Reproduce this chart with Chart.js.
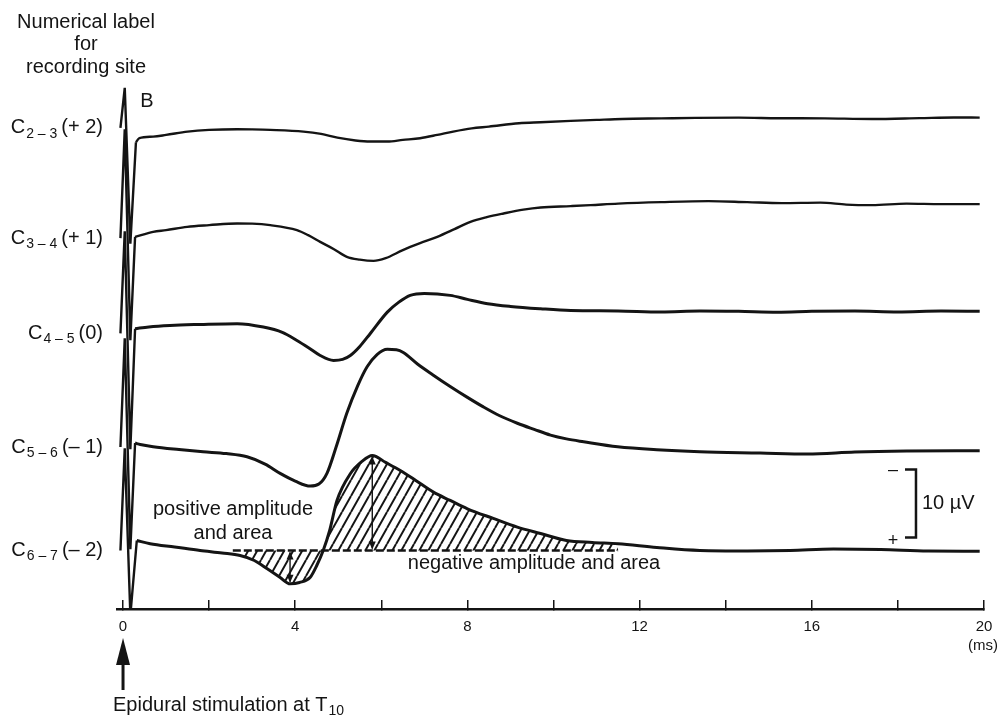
<!DOCTYPE html>
<html>
<head>
<meta charset="utf-8">
<script src="https://cdn.jsdelivr.net/npm/chart.js@4.4.1/dist/chart.umd.min.js"></script>
<style>
  html, body { margin: 0; padding: 0; background: #fff; overflow: hidden; }
  #wrap { width: 1003px; height: 717px; position: relative; }
  canvas { display: block; }
</style>
</head>
<body>
<div id="wrap"><canvas id="tracesChart"></canvas></div>
<script>
// recording sites (top to bottom)
const siteNames = ['2 \u2013 3', '3 \u2013 4', '4 \u2013 5', '5 \u2013 6', '6 \u2013 7'];
const siteNumbers = ['(+ 2)', '(+ 1)', '(0)', '(\u2013 1)', '(\u2013 2)'];
const siteOffsets = [18.8, 35.0, 49.0, 65.7, 80.9]; // uV, where each trace sits

// stimulus artifact at t = 0 (uV relative to each trace)
const artifactTimes = [-0.06, 0.04, 0.17];
const spikeUp = [-5.9, -16, -15, -16, -15];
const spikeDown = [17, 15, 17, 15, 9.5];

// time axis (ms)
const xTicks = [0, 4, 8, 12, 16, 20];

// traces: time (ms) and deflection (uV, negative up)
const c23Time = [0.3, 0.38, 0.7, 1.0, 1.5, 2.0, 2.65, 3.0, 3.42, 4.19, 4.6, 4.98, 5.4, 5.74, 6.14, 6.5, 6.9, 7.3, 7.67, 8.1, 8.5, 9.2, 9.7, 10.4, 11.0, 11.6, 12.5, 13.3, 14.3, 15.2, 16.3, 17.4, 18.5, 19.3, 19.9];
const c23Uv = [2.1, 1.5, 1.28, 1.03, 0.54, 0.29, 0.19, 0.22, 0.29, 0.54, 0.88, 1.43, 1.84, 2.0, 2.0, 1.76, 1.51, 1.03, 0.54, 0.07, -0.19, -0.69, -0.84, -1.03, -1.18, -1.32, -1.4, -1.47, -1.51, -1.43, -1.4, -1.32, -1.44, -1.54, -1.51];

const c34Time = [0.28, 0.7, 1.0, 1.49, 2.0, 2.65, 3.0, 3.42, 4.04, 4.3, 4.58, 4.9, 5.2, 5.5, 5.82, 6.1, 6.5, 6.9, 7.3, 7.7, 8.07, 8.45, 8.84, 9.3, 9.7, 10.4, 10.86, 11.5, 12.5, 13.6, 14.5, 15.3, 16.2, 16.8, 17.4, 18.2, 19.0, 19.9];
const c34Uv = [-0.19, -0.93, -1.18, -1.66, -1.91, -2.16, -2.13, -1.91, -1.18, -0.44, 0.54, 1.62, 2.75, 3.16, 3.34, 2.94, 1.76, 0.74, -0.19, -1.32, -2.4, -3.09, -3.63, -4.19, -4.51, -4.71, -4.85, -5.07, -5.29, -5.44, -5.29, -5.15, -5.22, -4.93, -4.85, -5.07, -5.0, -5.0];

const c45Time = [0.28, 0.6, 1.09, 1.8, 2.65, 3.26, 3.7, 4.04, 4.3, 4.58, 4.89, 5.1, 5.28, 5.5, 5.74, 6.14, 6.4, 6.67, 7.0, 7.6, 8.0, 8.47, 9.0, 9.7, 10.4, 11.5, 12.5, 13.4, 14.3, 15.2, 16.0, 17.0, 18.0, 19.0, 19.9];
const c45Uv = [-0.69, -0.96, -1.18, -1.32, -1.43, -0.93, -0.15, 1.03, 2.06, 3.24, 3.97, 3.82, 3.24, 1.91, 0.04, -3.13, -4.56, -5.59, -5.88, -5.59, -5.0, -4.37, -3.97, -3.63, -3.38, -3.31, -3.16, -3.3, -3.24, -3.12, -3.24, -3.3, -3.16, -3.28, -3.24];

const c56Time = [0.28, 0.4, 0.7, 1.3, 1.86, 2.4, 2.88, 3.3, 3.65, 4.0, 4.35, 4.55, 4.74, 4.95, 5.2, 5.45, 5.67, 5.9, 6.14, 6.35, 6.51, 6.84, 7.2, 7.6, 8.0, 8.37, 8.75, 9.16, 9.55, 9.93, 10.3, 10.7, 11.49, 12.4, 13.4, 14.8, 15.9, 17.0, 18.2, 19.9];
const c56Uv = [-0.59, -0.37, -0.04, 0.37, 0.69, 0.96, 1.43, 2.5, 3.87, 5.0, 5.74, 5.44, 3.82, 0.0, -5.0, -9.0, -11.8, -13.6, -14.37, -14.3, -13.9, -12.2, -10.6, -8.9, -7.3, -5.9, -4.6, -3.5, -2.6, -1.76, -1.2, -0.78, -0.04, 0.4, 0.69, 0.88, 1.03, 0.74, 0.59, 0.54];

const c67Time = [0.32, 0.63, 1.2, 1.79, 2.3, 2.72, 3.05, 3.35, 3.65, 3.88, 4.1, 4.35, 4.5, 4.65, 4.8, 4.97, 5.28, 5.55, 5.79, 6.1, 6.44, 6.8, 7.21, 7.6, 8.0, 8.6, 9.16, 9.7, 10.3, 10.9, 11.5, 12.4, 13.4, 14.5, 15.5, 16.5, 17.6, 18.7, 19.9];
const c67Uv = [-1.47, -0.99, -0.51, 0, 0.37, 0.74, 1.47, 2.69, 3.97, 4.9, 4.71, 3.93, 2.21, 0, -2.94, -7.35, -11.28, -13.09, -13.97, -12.94, -11.76, -10.29, -8.57, -7.35, -6.13, -4.71, -3.43, -2.5, -1.47, -1.18, -0.99, -0.44, 0, 0.07, 0, -0.22, -0.15, 0.07, 0.1];

// measured window on the bottom trace (ms)
const areaWindow = [2.55, 11.5];
// calibration bar
const calTime = 18.42, calTop = 69.0, calSize = 10;

const traceTimes = [c23Time, c34Time, c45Time, c56Time, c67Time];
const traceUv = [c23Uv, c34Uv, c45Uv, c56Uv, c67Uv];
const traceWidths = [2.4, 2.4, 3.0, 3.0, 3.0];

const FONT = (s) => s + "px 'Liberation Sans', Arial, sans-serif";
const INK = '#141414';

function tracePoints(i) {
  return traceTimes[i].map((t, k) => ({ x: t, y: siteOffsets[i] + traceUv[i][k] }));
}

function artifactPoints(i) {
  return [
    { x: artifactTimes[0], y: siteOffsets[i] },
    { x: artifactTimes[1], y: siteOffsets[i] + spikeUp[i] },
    { x: artifactTimes[2], y: siteOffsets[i] + spikeDown[i] },
    { x: traceTimes[i][0], y: siteOffsets[i] + traceUv[i][0] },
  ];
}

// diagonal hatching
const hatchCanvas = document.createElement('canvas');
hatchCanvas.width = 9;
hatchCanvas.height = 16;
const hc = hatchCanvas.getContext('2d');
hc.strokeStyle = INK;
hc.lineWidth = 2;
for (let k = -1; k <= 1; k++) {
  hc.beginPath();
  hc.moveTo(k * 9, 16);
  hc.lineTo(k * 9 + 9, 0);
  hc.stroke();
}
const hatch = hc.createPattern(hatchCanvas, 'repeat');

const datasets = [];
traceTimes.forEach((_, i) => {
  datasets.push({
    data: tracePoints(i),
    borderColor: INK,
    borderWidth: traceWidths[i],
    pointRadius: 0,
    fill: false,
    cubicInterpolationMode: 'monotone',
    borderJoinStyle: 'round',
    order: 1,
  });
  datasets.push({
    data: artifactPoints(i),
    borderColor: INK,
    borderWidth: 2.4,
    pointRadius: 0,
    fill: false,
    tension: 0,
    order: 1,
  });
});

const last = siteOffsets.length - 1;
const hatchPoints = [];
c67Time.forEach((t, k) => {
  if (t >= areaWindow[0] && t <= areaWindow[1]) hatchPoints.push({ x: t, y: siteOffsets[last] + c67Uv[k] });
});
datasets.push({
  data: hatchPoints,
  borderWidth: 0,
  borderColor: 'rgba(0,0,0,0)',
  backgroundColor: hatch,
  pointRadius: 0,
  cubicInterpolationMode: 'monotone',
  fill: { value: siteOffsets[last] },
  order: 5,
});
datasets.push({
  data: [{ x: areaWindow[0], y: siteOffsets[last] }, { x: areaWindow[1], y: siteOffsets[last] }],
  borderColor: INK,
  borderWidth: 2.4,
  borderDash: [8, 3],
  pointRadius: 0,
  fill: false,
  order: 0,
});

function arrowHead(ctx, x, y, dir, len, half) {
  ctx.beginPath();
  ctx.moveTo(x, y);
  ctx.lineTo(x - half, y + dir * len);
  ctx.lineTo(x + half, y + dir * len);
  ctx.closePath();
  ctx.fill();
}

const annotations = {
  id: 'annotations',
  afterDraw(chart) {
    const { ctx } = chart;
    const xs = chart.scales.x, ys = chart.scales.y;
    ctx.save();
    ctx.fillStyle = INK;
    ctx.strokeStyle = INK;
    ctx.textBaseline = 'middle';

    ctx.font = FONT(20);
    ctx.textAlign = 'center';
    ['Numerical label', 'for', 'recording site'].forEach((s, i) => ctx.fillText(s, 86, 22 + i * 22.5));
    ctx.fillText('B', 147, 101);

    // site labels
    siteOffsets.forEach((off, i) => {
      const yy = ys.getPixelForValue(off);
      let right = 103;
      ctx.textAlign = 'right';
      ctx.font = FONT(20);
      ctx.fillText(siteNumbers[i], right, yy);
      right -= ctx.measureText(siteNumbers[i]).width + 4;
      ctx.font = FONT(14);
      ctx.fillText(siteNames[i], right, yy + 6);
      right -= ctx.measureText(siteNames[i]).width + 1;
      ctx.font = FONT(20);
      ctx.fillText('C', right, yy);
    });

    // area / amplitude notes
    ctx.textAlign = 'center';
    ctx.font = FONT(20);
    ctx.fillText('positive amplitude', 233, 509);
    ctx.fillText('and area', 233, 533);
    ctx.fillText('negative amplitude and area', 534, 563);

    // amplitude arrows on the bottom trace
    const base = siteOffsets[last];
    const troughV = Math.max(...c67Uv), peakV = Math.min(...c67Uv);
    const marks = [
      [c67Time[c67Uv.indexOf(troughV)], troughV],
      [c67Time[c67Uv.indexOf(peakV)], peakV],
    ];
    ctx.lineWidth = 1.4;
    marks.forEach(([t, v]) => {
      const px = xs.getPixelForValue(t);
      const y0 = ys.getPixelForValue(base), y1 = ys.getPixelForValue(base + v);
      const dir = y1 > y0 ? 1 : -1;
      ctx.beginPath();
      ctx.moveTo(px, y0 + dir * 2);
      ctx.lineTo(px, y1 - dir * 2);
      ctx.stroke();
      arrowHead(ctx, px, y0 + dir * 1, dir, 8, 3.5);
      arrowHead(ctx, px, y1 - dir * 1, -dir, 8, 3.5);
    });

    // calibration bar
    const cx = xs.getPixelForValue(calTime);
    const cy0 = ys.getPixelForValue(calTop), cy1 = ys.getPixelForValue(calTop + calSize);
    ctx.lineWidth = 2.5;
    ctx.beginPath();
    ctx.moveTo(cx - 11, cy0);
    ctx.lineTo(cx, cy0);
    ctx.lineTo(cx, cy1);
    ctx.lineTo(cx - 11, cy1);
    ctx.stroke();
    ctx.font = FONT(18);
    ctx.fillText('\u2013', cx - 23, cy0 + 1);
    ctx.fillText('+', cx - 23, cy1 + 3);
    ctx.textAlign = 'left';
    ctx.font = FONT(20);
    ctx.fillText('10 \u00b5V', cx + 6, (cy0 + cy1) / 2);

    // unit
    ctx.textAlign = 'center';
    ctx.font = FONT(15);
    ctx.fillText('(ms)', 983, 646);

    // stimulus arrow
    const x0 = xs.getPixelForValue(0);
    arrowHead(ctx, x0, 638, 1, 27, 7);
    ctx.lineWidth = 3;
    ctx.beginPath();
    ctx.moveTo(x0, 660);
    ctx.lineTo(x0, 690);
    ctx.stroke();
    ctx.textAlign = 'left';
    ctx.font = FONT(20);
    const cap = 'Epidural stimulation at T';
    ctx.fillText(cap, 113, 705);
    const w = ctx.measureText(cap).width;
    ctx.font = FONT(14);
    ctx.fillText('10', 113 + w + 1, 711);
    ctx.restore();
  },
};

const ctx = document.getElementById('tracesChart').getContext('2d');
const tracesChart = new Chart(ctx, {
  type: 'line',
  data: { datasets },
  options: {
    responsive: true,
    maintainAspectRatio: false,
    animation: false,
    events: [],
    layout: { autoPadding: false, padding: { left: 117, right: 19, top: 0, bottom: 68 } },
    scales: {
      x: {
        type: 'linear',
        min: -0.14,
        max: 20,
        afterFit: (scale) => {
          scale.height = 40;
          scale.paddingLeft = 0;
          scale.paddingRight = 0;
        },
        border: { display: true, color: INK, width: 2.5 },
        grid: { drawOnChartArea: false, drawTicks: true, tickLength: -9, color: INK, lineWidth: 1.5 },
        ticks: {
          stepSize: 2,
          includeBounds: false,
          maxRotation: 0,
          autoSkip: false,
          padding: 18,
          color: INK,
          font: { family: "'Liberation Sans', Arial, sans-serif", size: 15 },
          callback: (v) => (xTicks.includes(v) ? String(v) : ''),
        },
      },
      y: {
        type: 'linear',
        reverse: true,
        display: false,
        min: 0,
        max: 89.5,
      },
    },
    plugins: {
      legend: { display: false },
      tooltip: { enabled: false },
    },
  },
  plugins: [annotations],
});
</script>
</body>
</html>
